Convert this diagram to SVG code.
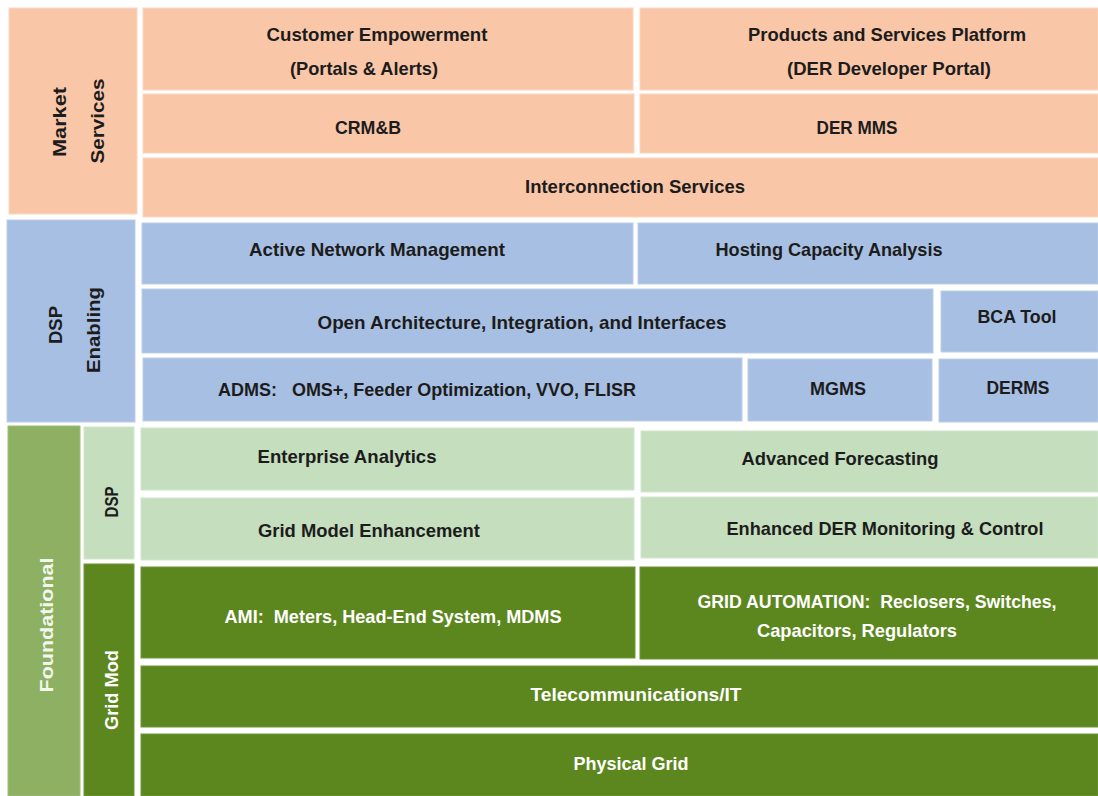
<svg xmlns="http://www.w3.org/2000/svg" width="1098" height="796" viewBox="0 0 1098 796">
<style>
text{font-family:"Liberation Sans",Arial,sans-serif;font-weight:bold;font-size:19px;text-anchor:middle;fill:#1c1c1c}
.w{fill:#ffffff}
.lf{fill:#f2f7ec}
.pe{fill:#f9c6a8;stroke:#fbd6c0;stroke-width:1}
.bl{fill:#a7bfe2;stroke:#bccfea;stroke-width:1}
.lg{fill:#c4debe;stroke:#d3e6cf;stroke-width:1}
.dg{fill:#5c871e;stroke:#6f9636;stroke-width:1}
.fg{fill:#8db062;stroke:#a0bf7b;stroke-width:1}
</style>
<rect width="1098" height="796" fill="#ffffff"/>
<g id="market-services"><rect class="pe" x="9" y="8" width="128" height="206"/>
<text transform="translate(66,122) rotate(-90)" textLength="70" lengthAdjust="spacingAndGlyphs">Market</text>
<text transform="translate(104,121) rotate(-90)" textLength="85" lengthAdjust="spacingAndGlyphs">Services</text></g>
<g id="customer-empowerment"><rect class="pe" x="143" y="8" width="490" height="82"/>
<text x="377" y="41" textLength="221" lengthAdjust="spacingAndGlyphs">Customer Empowerment</text>
<text x="364" y="75" textLength="148" lengthAdjust="spacingAndGlyphs">(Portals &amp; Alerts)</text></g>
<g id="products-services"><rect class="pe" x="640" y="8" width="458" height="82"/>
<text x="887" y="41" textLength="278" lengthAdjust="spacingAndGlyphs">Products and Services Platform</text>
<text x="889" y="75" textLength="204" lengthAdjust="spacingAndGlyphs">(DER Developer Portal)</text></g>
<g id="crmb"><rect class="pe" x="143" y="94" width="491" height="59"/>
<text x="368" y="134" textLength="66" lengthAdjust="spacingAndGlyphs">CRM&amp;B</text></g>
<g id="der-mms"><rect class="pe" x="640" y="94" width="458" height="59"/>
<text x="857" y="134" textLength="81" lengthAdjust="spacingAndGlyphs">DER MMS</text></g>
<g id="interconnection"><rect class="pe" x="143" y="158" width="955" height="59"/>
<text x="635" y="193" textLength="220" lengthAdjust="spacingAndGlyphs">Interconnection Services</text></g>
<g id="dsp-enabling"><rect class="bl" x="7" y="220" width="128" height="202"/>
<text transform="translate(62,325) rotate(-90)" textLength="38" lengthAdjust="spacingAndGlyphs">DSP</text>
<text transform="translate(100,330) rotate(-90)" textLength="86" lengthAdjust="spacingAndGlyphs">Enabling</text></g>
<g id="active-network"><rect class="bl" x="142" y="223" width="491" height="61"/>
<text x="377" y="256" textLength="256" lengthAdjust="spacingAndGlyphs">Active Network Management</text></g>
<g id="hosting-capacity"><rect class="bl" x="638" y="223" width="460" height="61"/>
<text x="829" y="256" textLength="227" lengthAdjust="spacingAndGlyphs">Hosting Capacity Analysis</text></g>
<g id="open-architecture"><rect class="bl" x="142" y="289" width="791" height="64"/>
<text x="522" y="329" textLength="409" lengthAdjust="spacingAndGlyphs">Open Architecture, Integration, and Interfaces</text></g>
<g id="bca-tool"><rect class="bl" x="941" y="291" width="157" height="61"/>
<text x="1017" y="323" textLength="79" lengthAdjust="spacingAndGlyphs">BCA Tool</text></g>
<g id="adms"><rect class="bl" x="143" y="358" width="599" height="63"/>
<text x="427" y="396" textLength="418" lengthAdjust="spacingAndGlyphs" xml:space="preserve">ADMS:   OMS+, Feeder Optimization, VVO, FLISR</text></g>
<g id="mgms"><rect class="bl" x="748" y="359" width="184" height="62"/>
<text x="838" y="395" textLength="56" lengthAdjust="spacingAndGlyphs">MGMS</text></g>
<g id="derms"><rect class="bl" x="939" y="359" width="159" height="63"/>
<text x="1018" y="394" textLength="63" lengthAdjust="spacingAndGlyphs">DERMS</text></g>
<g id="foundational"><rect class="fg" x="8" y="426" width="72" height="370"/>
<text class="lf" transform="translate(53,625) rotate(-90)" textLength="135" lengthAdjust="spacingAndGlyphs">Foundational</text></g>
<g id="dsp-foundational"><rect class="lg" x="84" y="427" width="50" height="132"/>
<text transform="translate(118,502) rotate(-90)" textLength="31" lengthAdjust="spacingAndGlyphs">DSP</text></g>
<g id="grid-mod"><rect class="dg" x="84" y="564" width="50" height="232"/>
<text class="w" transform="translate(118,690) rotate(-90)" textLength="80" lengthAdjust="spacingAndGlyphs">Grid Mod</text></g>
<g id="enterprise-analytics"><rect class="lg" x="141" y="428" width="493" height="62"/>
<text x="347" y="463" textLength="179" lengthAdjust="spacingAndGlyphs">Enterprise Analytics</text></g>
<g id="advanced-forecasting"><rect class="lg" x="641" y="431" width="457" height="61"/>
<text x="840" y="465" textLength="197" lengthAdjust="spacingAndGlyphs">Advanced Forecasting</text></g>
<g id="grid-model"><rect class="lg" x="141" y="498" width="493" height="62"/>
<text x="369" y="537" textLength="222" lengthAdjust="spacingAndGlyphs">Grid Model Enhancement</text></g>
<g id="enhanced-der"><rect class="lg" x="641" y="497" width="457" height="61"/>
<text x="885" y="535" textLength="317" lengthAdjust="spacingAndGlyphs">Enhanced DER Monitoring &amp; Control</text></g>
<g id="ami"><rect class="dg" x="141" y="567" width="494" height="91"/>
<text class="w" x="393" y="623" textLength="337" lengthAdjust="spacingAndGlyphs" xml:space="preserve">AMI:  Meters, Head-End System, MDMS</text></g>
<g id="grid-automation"><rect class="dg" x="640" y="567" width="458" height="92"/>
<text class="w" x="877" y="608" textLength="359" lengthAdjust="spacingAndGlyphs" xml:space="preserve">GRID AUTOMATION:  Reclosers, Switches,</text>
<text class="w" x="857" y="637" textLength="200" lengthAdjust="spacingAndGlyphs">Capacitors, Regulators</text></g>
<g id="telecom"><rect class="dg" x="141" y="666" width="957" height="61"/>
<text class="w" x="636" y="701" textLength="211" lengthAdjust="spacingAndGlyphs">Telecommunications/IT</text></g>
<g id="physical-grid"><rect class="dg" x="141" y="734" width="957" height="62"/>
<text class="w" x="631" y="770" textLength="115" lengthAdjust="spacingAndGlyphs">Physical Grid</text></g>
<g id="connectors"></g>
</svg>
